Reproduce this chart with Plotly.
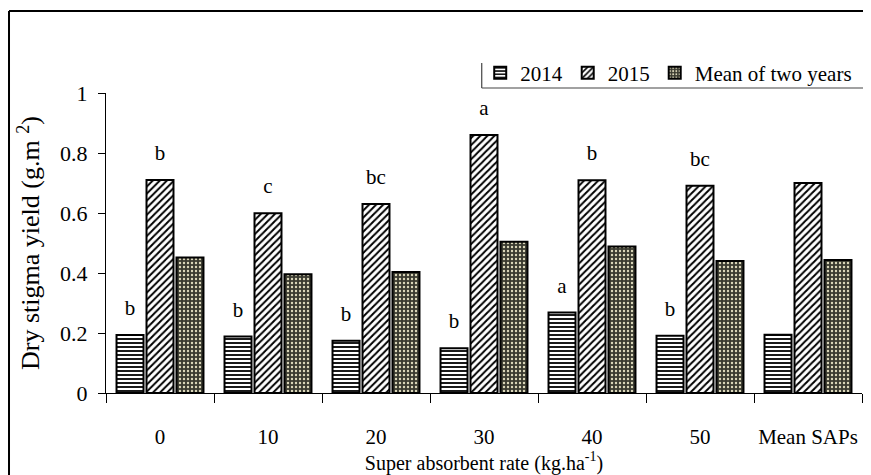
import plotly.graph_objects as go

categories = ["0", "10", "20", "30", "40", "50", "Mean SAPs"]
y2014 = [0.193, 0.188, 0.174, 0.149, 0.268, 0.191, 0.194]
y2015 = [0.710, 0.599, 0.630, 0.860, 0.709, 0.691, 0.700]
ymean = [0.452, 0.396, 0.403, 0.504, 0.488, 0.440, 0.443]
letters2014 = ["b", "b", "b", "b", "a", "b", ""]
letters2015 = ["b", "c", "bc", "a", "b", "bc", ""]
letters_mean = ["", "", "", "", "", "", ""]
series_names = ["2014", "2015", "Mean of two years"]

FONT = "Liberation Serif, Times New Roman, serif"

patterns = [
    dict(shape="-", size=4, solidity=0.45, fgcolor="black", bgcolor="white", fillmode="replace"),
    dict(shape="/", size=5, solidity=0.4, fgcolor="black", bgcolor="white", fillmode="replace"),
    dict(shape=".", size=4, solidity=0.28, fgcolor="#dcd8ba", bgcolor="#3a3a30", fillmode="replace"),
]

fig = go.Figure()
for name, vals, pat, grp in zip(series_names, [y2014, y2015, ymean], patterns, ["g1", "g2", "g3"]):
    fig.add_trace(go.Bar(
        x=categories, y=vals, name=name, offsetgroup=grp,
        marker=dict(color="white", pattern=pat, line=dict(color="black", width=2)),
        hoverinfo="skip",
    ))

# significance letters, placed above the bars through grouped scatter traces
for vals, labs, grp in zip([y2014, y2015, ymean], [letters2014, letters2015, letters_mean], ["g1", "g2", "g3"]):
    keep = [i for i, t in enumerate(labs) if t]
    xs = [categories[i] for i in keep] or [categories[0]]
    ys = [vals[i] for i in keep] or [vals[0]]
    ts = [labs[i] for i in keep]
    fig.add_trace(go.Scatter(
        x=xs, y=ys, text=ts if ts else None,
        mode="markers+text" if ts else "markers", offsetgroup=grp,
        textposition="top center", marker=dict(size=22, opacity=0),
        textfont=dict(family=FONT, size=21, color="black"),
        showlegend=False, cliponaxis=False, hoverinfo="skip",
    ))

shapes = [
    # outer frame (top and left)
    dict(type="line", xref="paper", yref="paper", x0=-0.1283, x1=1.02, y0=1.2733, y1=1.2733, line=dict(color="black", width=2)),
    dict(type="line", xref="paper", yref="paper", x0=-0.1283, x1=-0.1283, y0=1.2733, y1=-0.30, line=dict(color="black", width=2)),
    # legend box edges (left and bottom)
    dict(type="line", xref="paper", yref="paper", x0=0.497, x1=0.497, y0=1.10, y1=1.0167, line=dict(color="#444", width=1.2)),
    dict(type="line", xref="paper", yref="paper", x0=0.497, x1=1.02, y0=1.0167, y1=1.0167, line=dict(color="#444", width=1.2)),
]

fig.update_layout(
    template="none",
    width=863, height=467,
    margin=dict(l=98, r=9, t=85, b=82, autoexpand=False),
    paper_bgcolor="white", plot_bgcolor="white",
    font=dict(family=FONT, size=21, color="black"),
    barmode="group", bargap=0.167, bargroupgap=0.1,
    scattermode="group", scattergap=0.167,
    showlegend=True,
    legend=dict(orientation="h", x=0.495, xanchor="left", y=1.0667, yanchor="middle",
                bgcolor="rgba(0,0,0,0)", font=dict(family=FONT, size=21),
                traceorder="normal"),
    shapes=shapes,
    xaxis=dict(
        type="category", tickson="boundaries", ticks="outside", ticklen=9,
        tickcolor="black", showline=True, linecolor="black", linewidth=1,
        showgrid=False, ticklabelstandoff=25, tickangle=0, automargin=False,
        tickfont=dict(family=FONT, size=21),
        title=dict(text="Super absorbent rate (kg.ha<sup>-1</sup>)", standoff=4,
                   font=dict(family=FONT, size=20)),
    ),
    yaxis=dict(
        range=[0, 1], dtick=0.2, ticks="outside", ticklen=7, tickcolor="black",
        showline=True, linecolor="black", linewidth=1, showgrid=False,
        zeroline=False, ticklabelstandoff=6, automargin=False,
        tickfont=dict(family=FONT, size=22),
        title=dict(text="Dry stigma yield (g.m <sup>2</sup>)", standoff=12,
                   font=dict(family=FONT, size=26)),
    ),
)

fig.write_html("out.html")
